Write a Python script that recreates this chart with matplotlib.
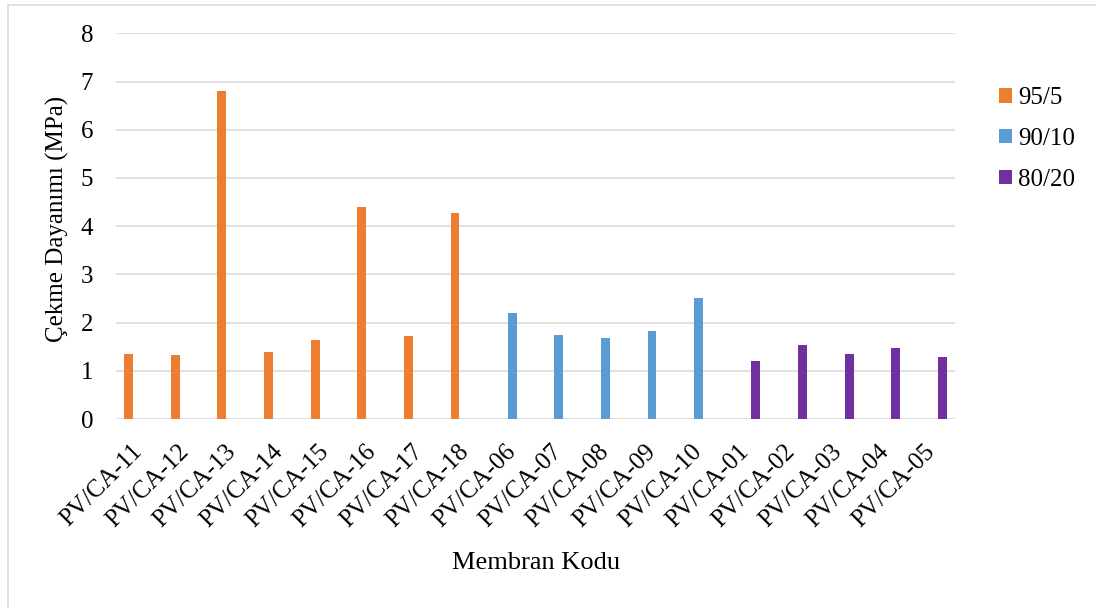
import matplotlib
matplotlib.use("Agg")
import matplotlib.pyplot as plt
from matplotlib.lines import Line2D
from matplotlib.patches import Patch
import numpy as np

plt.rcParams['font.family'] = ['Liberation Serif', 'DejaVu Serif']

categories = ['PV/CA-11', 'PV/CA-12', 'PV/CA-13', 'PV/CA-14', 'PV/CA-15', 'PV/CA-16',
              'PV/CA-17', 'PV/CA-18', 'PV/CA-06', 'PV/CA-07', 'PV/CA-08', 'PV/CA-09',
              'PV/CA-10', 'PV/CA-01', 'PV/CA-02', 'PV/CA-03', 'PV/CA-04', 'PV/CA-05']
series_names = ['95/5', '90/10', '80/20']
vals_95_5 = [1.35, 1.33, 6.80, 1.39, 1.63, 4.39, 1.72, 4.27]
vals_90_10 = [2.19, 1.74, 1.68, 1.83, 2.51]
vals_80_20 = [1.20, 1.53, 1.34, 1.47, 1.29]
colors = ['#ED7D31', '#5B9BD5', '#7030A0']
yticks = [0, 1, 2, 3, 4, 5, 6, 7, 8]

W, H = 1096, 608
fig = plt.figure(figsize=(W / 100, H / 100), dpi=100)
ax = fig.add_axes([116 / W, 1 - 419 / H, (955 - 116) / W, (419 - 33.4) / H])

x = np.arange(len(categories))
slot = 0.228
bw = 0.19
groups = [vals_95_5, vals_90_10, vals_80_20]
start = 0
for k, (vals, c, name) in enumerate(zip(groups, colors, series_names)):
    idx = x[start:start + len(vals)]
    ax.bar(idx + (k - 1) * slot, vals, width=bw, color=c, zorder=3, label=name)
    start += len(vals)

ax.set_xlim(-0.5, len(categories) - 0.5)
ax.set_ylim(0, 8)
ax.set_yticks(yticks)
ax.yaxis.grid(True, color='#D9D9D9', linewidth=1.1)
ax.set_axisbelow(True)
for s in ax.spines.values():
    s.set_visible(False)
ax.tick_params(axis='y', length=0, pad=16.5, labelsize=18)
ax.tick_params(axis='x', length=0, pad=21, labelsize=18)
ax.set_xticks(x)
ax.set_xticklabels(categories, rotation=45, ha='right', va='center',
                   rotation_mode='anchor')

fig.text(57 / W, 1 - 219 / H, 'Çekme Dayanımı (MPa)', rotation=90,
         ha='center', va='center', fontsize=18)
fig.text(536 / W, 1 - 563 / H, 'Membran Kodu', ha='center', va='center',
         fontsize=19)

handles = [Patch(facecolor=c, edgecolor='none') for c in colors]
fig.legend(handles, series_names, loc='center left',
           bbox_to_anchor=(999 / W, 1 - 139 / H), frameon=False, fontsize=18,
           handlelength=0.52, handleheight=0.52, handletextpad=0.25,
           labelspacing=0.75, borderpad=0, borderaxespad=0)

# chart area outline (left and top edges)
fig.add_artist(Line2D([8 / W, 8 / W], [0, 1 - 5 / H], color='#D9D9D9',
                      linewidth=1.1, transform=fig.transFigure))
fig.add_artist(Line2D([8 / W, 1], [1 - 5 / H, 1 - 5 / H], color='#D9D9D9',
                      linewidth=1.1, transform=fig.transFigure))

fig.savefig('out.png', dpi=100, facecolor='white')
